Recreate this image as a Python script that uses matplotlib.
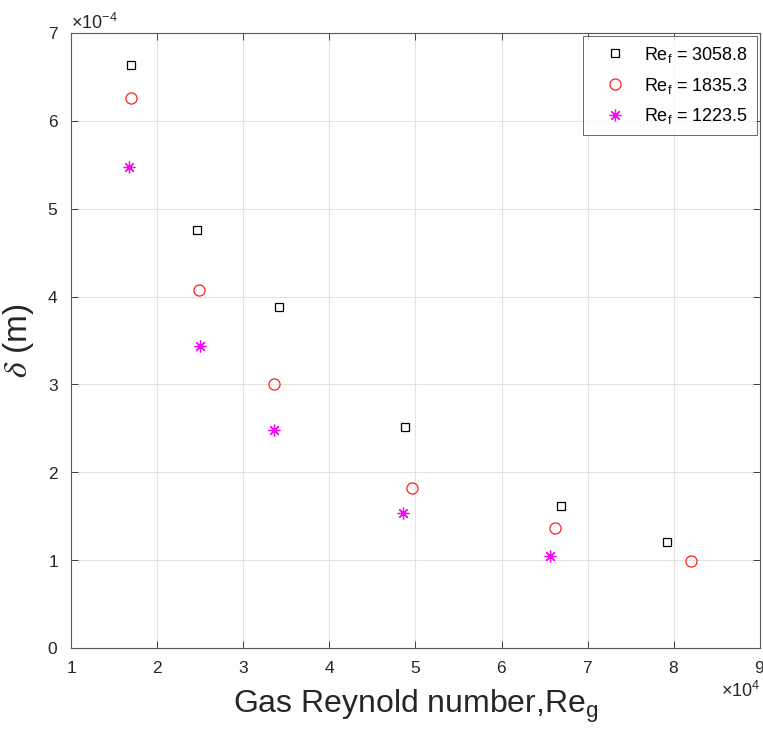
import numpy as np
import matplotlib.pyplot as plt
from matplotlib.ticker import ScalarFormatter

# film thickness vs gas Reynolds number, one series per liquid Reynolds number
re_g_3058 = [16970, 24630, 34120, 48790, 66950, 79190]
delta_3058 = [6.63e-4, 4.76e-4, 3.88e-4, 2.52e-4, 1.62e-4, 1.21e-4]

re_g_1835 = [16930, 24900, 33610, 49600, 66210, 81970]
delta_1835 = [6.265e-4, 4.07e-4, 3.0e-4, 1.82e-4, 1.37e-4, 0.99e-4]

re_g_1223 = [16700, 24950, 33610, 48590, 65670]
delta_1223 = [5.47e-4, 3.44e-4, 2.48e-4, 1.54e-4, 1.05e-4]

labels = ['3058.8', '1835.3', '1223.5']

plt.rcParams['font.family'] = ['Liberation Sans', 'DejaVu Sans']
plt.rcParams['mathtext.fontset'] = 'custom'
plt.rcParams['mathtext.rm'] = 'Liberation Sans'
plt.rcParams['mathtext.it'] = 'Liberation Sans:italic'

axcol = '#262626'

fig = plt.figure(figsize=(7.63, 7.33), dpi=100)
ax = fig.add_axes([0.093, 0.116, 0.903, 0.839])

ax.plot(re_g_3058, delta_3058, linestyle='none', marker='s', markersize=5.8,
        markerfacecolor='none', markeredgecolor='black', markeredgewidth=0.9,
        label=r'Re$_{\mathregular{f}}$ = ' + labels[0])
ax.plot(re_g_1835, delta_1835, linestyle='none', marker='o', markersize=8,
        markerfacecolor='none', markeredgecolor='#ff2020', markeredgewidth=0.9,
        label=r'Re$_{\mathregular{f}}$ = ' + labels[1])
ax.plot(re_g_1223, delta_1223, linestyle='none', marker=(8, 2, 0), markersize=8.5,
        color='#ff00ff', markeredgewidth=0.9,
        label=r'Re$_{\mathregular{f}}$ = ' + labels[2])

ax.set_xlim(10000, 90000)
ax.set_ylim(0, 7e-4)
ax.set_xticks(np.arange(10000, 90001, 10000))
ax.set_yticks(np.arange(0, 7.01e-4, 1e-4))

for axis in (ax.xaxis, ax.yaxis):
    fmt = ScalarFormatter(useMathText=True)
    fmt.set_powerlimits((0, 0))
    axis.set_major_formatter(fmt)

ax.grid(True, color='#e3e3e3', linewidth=0.8)
ax.set_axisbelow(True)
ax.tick_params(direction='in', top=True, right=True, length=5, width=0.6,
               labelsize=12.5, colors=axcol, pad=9)
for sp in ax.spines.values():
    sp.set_color('#5a5a5a')
    sp.set_linewidth(0.8)
ax.xaxis.get_offset_text().set_fontsize(13)
ax.yaxis.get_offset_text().set_fontsize(13)

ax.set_xlabel('Gas Reynold number,Re$_{\\mathregular{g}}$', fontsize=23, color=axcol, labelpad=8)
ax.set_ylabel(r'$\delta$ (m)', fontsize=24, color=axcol, math_fontfamily='stix', labelpad=8)

leg = ax.legend(loc='upper right', fontsize=13, frameon=True, fancybox=False,
                borderaxespad=0.15, handlelength=2.6, handletextpad=0.3,
                labelspacing=0.6, borderpad=0.5)
leg.get_frame().set_edgecolor(axcol)
leg.get_frame().set_linewidth(0.6)

fig.savefig('out.png', dpi=100)
